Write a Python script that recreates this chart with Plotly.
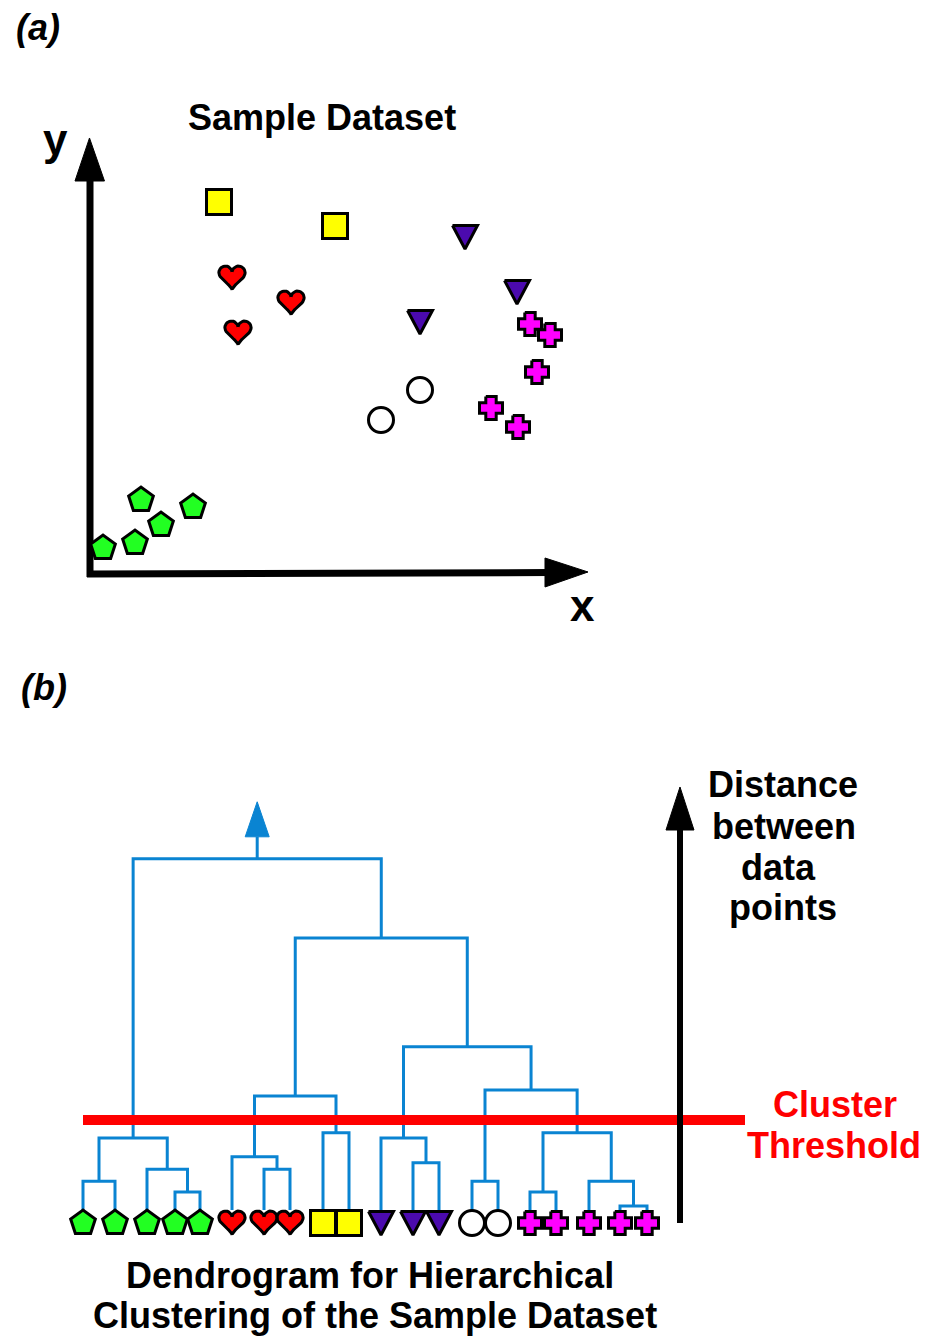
import numpy as np
import plotly.graph_objects as go

W, H = 926, 1336

# ---------------- Panel (a): sample dataset ----------------
square_x = [2.58, 4.90]
square_y = [7.44, 6.96]
heart_x = [2.84, 4.02, 2.96]
heart_y = [5.92, 5.42, 4.82]
tri_x = [7.50, 8.54, 6.60]
tri_y = [6.74, 5.64, 5.04]
circle_x = [6.60, 5.82]
circle_y = [3.68, 3.08]
cross_x = [8.80, 9.20, 8.94, 8.02, 8.56]
cross_y = [5.00, 4.78, 4.04, 3.32, 2.94]
pent_x = [1.02, 2.06, 1.42, 0.90, 0.26]
pent_y = [1.48, 1.34, 0.98, 0.62, 0.52]

# ---------------- Panel (b): dendrogram ----------------
leaf_shape = (["pentagon"] * 5 + ["heart"] * 3 + ["square"] * 2 +
              ["triangle"] * 3 + ["circle"] * 2 + ["cross"] * 5)
leaf_pos = [8.3, 11.5, 14.7, 17.5, 20.0, 23.2, 26.4, 29.0, 32.3, 34.9,
            38.1, 41.3, 43.9, 47.2, 49.8, 53.0, 55.6, 58.9, 62.0, 64.7]
# linkage: node 20 + i joins merge_left[i] and merge_right[i] at merge_height[i]
merge_left = [0, 3, 2, 20, 6, 5, 8, 25, 11, 10, 13, 15, 18, 17, 31, 30, 29, 27, 23]
merge_right = [1, 4, 21, 22, 7, 24, 9, 26, 12, 28, 14, 16, 19, 32, 33, 34, 35, 36, 37]
merge_height = [0.72, 0.45, 1.02, 1.80, 1.02, 1.33, 1.93, 2.85, 1.18, 1.80,
                0.72, 0.45, 0.10, 0.72, 1.93, 3.00, 4.08, 6.80, 8.78]
threshold = 2.25

# ---------------- axes geometry ----------------
AX_A = dict(x0=90, x1=590, y0=574, y1=124, xr=[0, 10], yr=[0, 9])
AX_B = dict(x0=0, x1=926, y0=1336, y1=760, xr=[0, 92.6], yr=[-3.15, 11.25])


def px_scale(ax):
    return ((ax["x1"] - ax["x0"]) / (ax["xr"][1] - ax["xr"][0]),
            (ax["y0"] - ax["y1"]) / (ax["yr"][1] - ax["yr"][0]))


SC_A = px_scale(AX_A)
SC_B = px_scale(AX_B)

BLUE = "#0A84D2"
STYLE = {
    "square": dict(symbol="square", size=25, color="#FFFF00"),
    "circle": dict(symbol="circle", size=25, color="#FFFFFF"),
    "pentagon": dict(symbol="pentagon", size=26, color="#22FF22"),
}
POLY_COLOR = {"heart": "#FF0000", "triangle": "#4B0AAE", "cross": "#FF00FF"}

# outline of the custom glyphs, in pixels (y up)
_t = np.linspace(0, 2 * np.pi, 73)
_s = 0.82
HEART_PX = (_s * 16 * np.sin(_t) ** 3,
            _s * (13 * np.cos(_t) - 5 * np.cos(2 * _t) - 2 * np.cos(3 * _t)
                  - np.cos(4 * _t) + 2.6))
TRI_PX = (np.array([-12.5, 12.5, 0, -12.5]), np.array([11.5, 11.5, -12, 11.5]))
_a, _b = 11.5, 5.2
CROSS_PX = (np.array([-_b, _b, _b, _a, _a, _b, _b, -_b, -_b, -_a, -_a, -_b, -_b]),
            np.array([_a, _a, _b, _b, -_b, -_b, -_a, -_a, -_b, -_b, _b, _b, _a]))
GLYPH_PX = {"heart": HEART_PX, "triangle": TRI_PX, "cross": CROSS_PX}

fig = go.Figure()


def add_points(kind, xs, ys, xa, ya, sc):
    if kind in STYLE:
        st = STYLE[kind]
        fig.add_trace(go.Scatter(
            x=xs, y=ys, xaxis=xa, yaxis=ya, mode="markers", cliponaxis=False,
            marker=dict(symbol=st["symbol"], size=st["size"], color=st["color"],
                        line=dict(color="black", width=3)),
            hoverinfo="skip"))
    else:
        gx, gy = GLYPH_PX[kind]
        px, py = [], []
        for cx, cy in zip(xs, ys):
            px += list(cx + gx / sc[0]) + [None]
            py += list(cy + gy / sc[1]) + [None]
        fig.add_trace(go.Scatter(
            x=px, y=py, xaxis=xa, yaxis=ya, mode="lines", fill="toself",
            fillcolor=POLY_COLOR[kind], cliponaxis=False,
            line=dict(color="black", width=3), hoverinfo="skip"))


# panel (a) scatter
for kind, xs, ys in [("square", square_x, square_y), ("heart", heart_x, heart_y),
                     ("triangle", tri_x, tri_y), ("circle", circle_x, circle_y),
                     ("cross", cross_x, cross_y), ("pentagon", pent_x, pent_y)]:
    add_points(kind, xs, ys, "x", "y", SC_A)

# dendrogram links
n_leaves = len(leaf_pos)
node_x = list(leaf_pos)
node_h = [0.0] * n_leaves
lx, ly = [], []
for a, b, h in zip(merge_left, merge_right, merge_height):
    xa_, xb_ = node_x[a], node_x[b]
    lx += [xa_, xa_, xb_, xb_, None]
    ly += [node_h[a], h, h, node_h[b], None]
    node_x.append((xa_ + xb_) / 2)
    node_h.append(h)

root_x, root_h = node_x[-1], node_h[-1]
head_base = root_h + 22 / SC_B[1]
head_tip = root_h + 57 / SC_B[1]
lx += [root_x, root_x, None]
ly += [root_h, head_base, None]

fig.add_trace(go.Scatter(x=lx, y=ly, xaxis="x2", yaxis="y2", mode="lines",
                         line=dict(color=BLUE, width=3), hoverinfo="skip"))
half_w = 12 / SC_B[0]
fig.add_trace(go.Scatter(
    x=[root_x - half_w, root_x + half_w, root_x, root_x - half_w],
    y=[head_base, head_base, head_tip, head_base], xaxis="x2", yaxis="y2",
    mode="lines", fill="toself", fillcolor=BLUE, line=dict(color=BLUE, width=1),
    hoverinfo="skip"))

# cluster threshold
fig.add_trace(go.Scatter(x=[leaf_pos[0], leaf_pos[-1] + 9.8], y=[threshold, threshold],
                         xaxis="x2", yaxis="y2", mode="lines",
                         line=dict(color="#FF0000", width=10), hoverinfo="skip"))

# leaf glyphs
leaf_y = -13 / SC_B[1]
for kind in ["pentagon", "heart", "square", "triangle", "circle", "cross"]:
    xs = [p for p, k in zip(leaf_pos, leaf_shape) if k == kind]
    add_points(kind, xs, [leaf_y] * len(xs), "x2", "y2", SC_B)


# ---------------- decorations ----------------
def P(px, py):
    return px / W, 1 - py / H


def tri_path(pts):
    return "M " + " L ".join("%.5f,%.5f" % P(*p) for p in pts) + " Z"


shapes = []


def line(p0, p1, width, layer="below"):
    (x0, y0), (x1, y1) = P(*p0), P(*p1)
    shapes.append(dict(type="line", xref="paper", yref="paper", x0=x0, y0=y0,
                       x1=x1, y1=y1, line=dict(color="black", width=width), layer=layer))


def head(pts, layer="below"):
    shapes.append(dict(type="path", xref="paper", yref="paper", path=tri_path(pts),
                       fillcolor="black", line=dict(color="black", width=1), layer=layer))


# panel (a) axes
line((90, 577), (90, 176), 7)
head([(75, 181), (104.5, 181), (89.5, 138)])
line((87, 574), (550, 572.5), 7)
head([(545, 558), (545, 587), (588, 572)])
# distance axis in panel (b)
line((680, 1223), (680, 826), 6, "above")
head([(666, 830), (694, 830), (680, 787)], "above")

FONT = "Liberation Sans, Arial, sans-serif"
annotations = []


def label(text, px, py, size, color="black"):
    x, y = P(px, py)
    annotations.append(dict(text=text, x=x, y=y, xref="paper", yref="paper",
                            xanchor="center", yanchor="middle", showarrow=False,
                            font=dict(family=FONT, size=size, color=color)))


label("<b><i>(a)</i></b>", 38, 27, 36)
label("<b><i>(b)</i></b>", 44, 688, 36)
label("<b>y</b>", 55, 139, 44)
label("<b>x</b>", 582, 605, 44)
label("<b>Sample Dataset</b>", 322, 118, 36)
for txt, cx, cy in [("Distance", 783, 785), ("between", 784, 826),
                    ("data", 778, 867), ("points", 783, 907)]:
    label("<b>%s</b>" % txt, cx, cy, 36)
label("<b>Cluster</b>", 835, 1104, 36, "#FF0000")
label("<b>Threshold</b>", 834, 1145, 36, "#FF0000")
label("<b>Dendrogram for Hierarchical</b>", 370, 1275, 36)
label("<b>Clustering of the Sample Dataset</b>", 375, 1315, 36)


def axis(ax_geo, horiz):
    if horiz:
        dom = [ax_geo["x0"] / W, ax_geo["x1"] / W]
        rng = ax_geo["xr"]
    else:
        dom = [1 - ax_geo["y0"] / H, 1 - ax_geo["y1"] / H]
        rng = ax_geo["yr"]
    return dict(domain=dom, range=rng, visible=False, fixedrange=True)


fig.update_layout(
    width=W, height=H, margin=dict(l=0, r=0, t=0, b=0),
    paper_bgcolor="white", plot_bgcolor="rgba(0,0,0,0)", showlegend=False,
    xaxis=dict(axis(AX_A, True), anchor="y"),
    yaxis=dict(axis(AX_A, False), anchor="x"),
    xaxis2=dict(axis(AX_B, True), anchor="y2"),
    yaxis2=dict(axis(AX_B, False), anchor="x2"),
    shapes=shapes, annotations=annotations, hovermode=False,
)

fig.write_html("out.html")
